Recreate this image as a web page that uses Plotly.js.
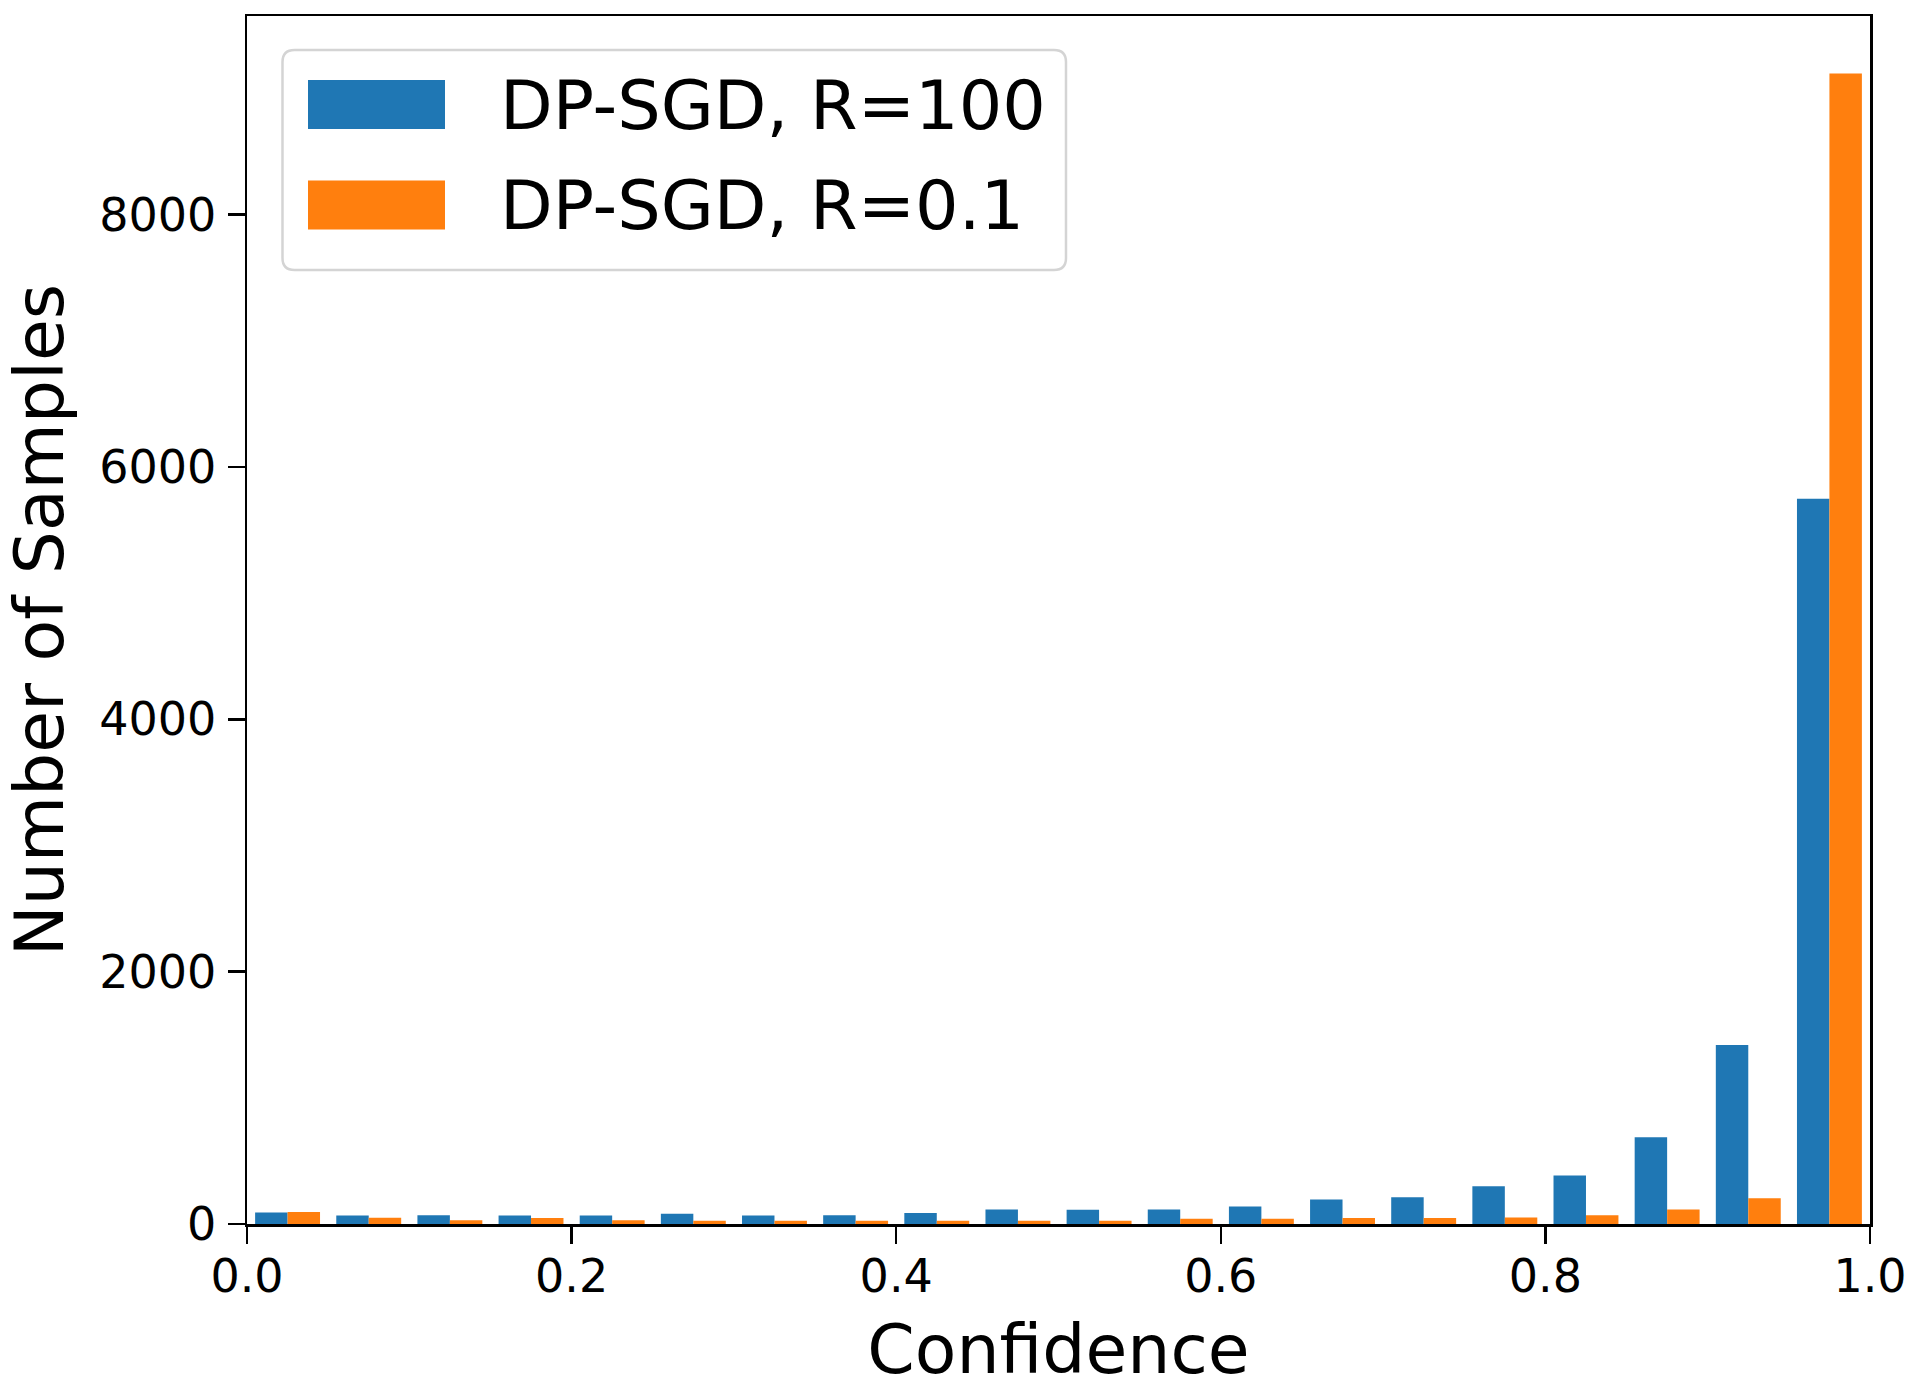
<!DOCTYPE html>
<html>
<head>
<meta charset="utf-8">
<script src="https://cdn.plot.ly/plotly-3.0.1.min.js"></script>
<style>
  html, body { margin: 0; padding: 0; background: #ffffff; }
  #chart { width: 1920px; height: 1389px; }
</style>
</head>
<body>
<div id="chart"></div>
<script>
// ---- Data (20 bins of width 0.05) ----
const binCenters = [0.025, 0.075, 0.125, 0.175, 0.225, 0.275, 0.325, 0.375, 0.425, 0.475,
                    0.525, 0.575, 0.625, 0.675, 0.725, 0.775, 0.825, 0.875, 0.925, 0.975];
const seriesNames = ["DP-SGD, R=100", "DP-SGD, R=0.1"];
const countsR100 = [92, 68, 70, 68, 68, 82, 68, 70, 88, 115, 112, 115, 138, 195, 212, 300, 385, 688, 1418, 5749];
const countsR01  = [95, 50, 30, 48, 30, 26, 26, 26, 26, 26, 26, 42, 42, 48, 48, 52, 70, 115, 204, 9119];
const xTickVals = [0, 0.2, 0.4, 0.6, 0.8, 1.0];
const yTickVals = [0, 2000, 4000, 6000, 8000];
const colors = ["#1f77b4", "#ff7f0e"];

// ---- Layout geometry (pixels) ----
const W = 1920, H = 1389;
const M = { l: 247, r: 50, t: 16, b: 165 };
const PW = W - M.l - M.r, PH = H - M.t - M.b;
const FONT = "DejaVu Sans, Verdana, sans-serif";

// pixel (relative to plot-area top-left) -> paper coords
const px = x => x / PW;
const py = y => 1 - y / PH;

function roundRectPath(x0, y0, x1, y1, r) {
  const X = v => px(v).toFixed(5), Y = v => py(v).toFixed(5);
  return `M${X(x0 + r)},${Y(y0)} L${X(x1 - r)},${Y(y0)} Q${X(x1)},${Y(y0)} ${X(x1)},${Y(y0 + r)} ` +
         `L${X(x1)},${Y(y1 - r)} Q${X(x1)},${Y(y1)} ${X(x1 - r)},${Y(y1)} ` +
         `L${X(x0 + r)},${Y(y1)} Q${X(x0)},${Y(y1)} ${X(x0)},${Y(y1 - r)} ` +
         `L${X(x0)},${Y(y0 + r)} Q${X(x0)},${Y(y0)} ${X(x0 + r)},${Y(y0)} Z`;
}

const traces = [
  { type: "bar", x: binCenters, y: countsR100, name: seriesNames[0],
    marker: { color: colors[0], line: { width: 0 } }, showlegend: false },
  { type: "bar", x: binCenters, y: countsR01, name: seriesNames[1],
    marker: { color: colors[1], line: { width: 0 } }, showlegend: false }
];

// custom legend (matplotlib style) in paper coordinates
const lg = { x0: 35.5, y0: 34, x1: 819, y1: 254, patchX0: 61, patchX1: 198, textX: 251,
             rows: [88.5, 189], patchH: 49 };
const shapes = [
  { type: "path", xref: "paper", yref: "paper", path: roundRectPath(lg.x0, lg.y0, lg.x1, lg.y1, 12),
    line: { color: "#d4d4d4", width: 2.5 }, fillcolor: "rgba(255,255,255,0.8)", layer: "above" }
];
const annotations = [];
lg.rows.forEach((cy, i) => {
  shapes.push({ type: "rect", xref: "paper", yref: "paper",
    x0: px(lg.patchX0), x1: px(lg.patchX1), y0: py(cy - lg.patchH / 2), y1: py(cy + lg.patchH / 2),
    line: { width: 0 }, fillcolor: colors[i], layer: "above" });
  annotations.push({ xref: "paper", yref: "paper", x: px(lg.textX), y: py(cy),
    xanchor: "left", yanchor: "middle", showarrow: false, text: seriesNames[i],
    font: { family: FONT, size: 68.5, color: "#000000" } });
});

const axisCommon = {
  showline: true, mirror: true, linecolor: "#000000", linewidth: 2.5,
  ticks: "outside", ticklen: 17, tickwidth: 2.5, tickcolor: "#000000",
  showgrid: false, zeroline: false, automargin: false,
  tickfont: { family: FONT, size: 46, color: "#000000" }
};

const layout = {
  width: W, height: H,
  margin: M,
  paper_bgcolor: "#ffffff", plot_bgcolor: "#ffffff",
  barmode: "group", bargap: 0.2, bargroupgap: 0,
  font: { family: FONT, color: "#000000" },
  xaxis: Object.assign({}, axisCommon, {
    range: [0, 1], tickmode: "array", tickvals: xTickVals, tickformat: ".1f",
    ticklabelstandoff: -7,
    title: { text: "Confidence", font: { family: FONT, size: 68, color: "#000000" }, standoff: 26 }
  }),
  yaxis: Object.assign({}, axisCommon, {
    range: [0, 9575], tickmode: "array", tickvals: yTickVals, tickformat: "d",
    ticklabelstandoff: 2,
    title: { text: "Number of Samples", font: { family: FONT, size: 68, color: "#000000" }, standoff: 28 }
  }),
  shapes: shapes,
  annotations: annotations
};

Plotly.newPlot("chart", traces, layout, { displayModeBar: false, staticPlot: true });
</script>
</body>
</html>
